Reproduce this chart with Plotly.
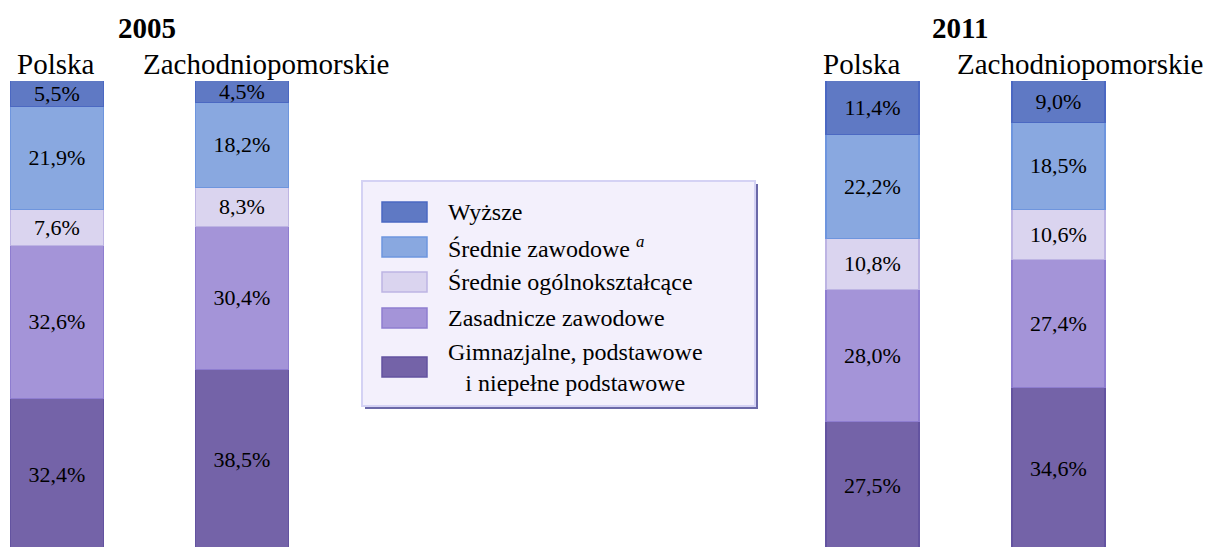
import plotly.graph_objects as go

# ---- data ----
regions = ["Polska", "Zachodniopomorskie"]
years = ["2005", "2011"]

levels = [
    "Wyższe",
    "Średnie zawodowe <sup><i>a</i></sup>",
    "Średnie ogólnokształcące",
    "Zasadnicze zawodowe",
    "Gimnazjalne, podstawowe<br>i niepełne podstawowe",
]

# shares per level, [Polska, Zachodniopomorskie]
wyzsze_2005 = [5.5, 4.5]
sr_zaw_2005 = [21.9, 18.2]
sr_ogol_2005 = [7.6, 8.3]
zasad_2005 = [32.6, 30.4]
gimn_2005 = [32.4, 38.5]

wyzsze_2011 = [11.4, 9.0]
sr_zaw_2011 = [22.2, 18.5]
sr_ogol_2011 = [10.8, 10.6]
zasad_2011 = [28.0, 27.4]
gimn_2011 = [27.5, 34.6]

fill_colors = ["#5F79C4", "#89A8E0", "#DAD4EF", "#A494D8", "#7463A8"]
line_colors = ["#4B68C2", "#6E95DE", "#BDB4E3", "#8E7DD0", "#6353A0"]

# stacked bottom -> top
series_2005 = [gimn_2005, zasad_2005, sr_ogol_2005, sr_zaw_2005, wyzsze_2005]
series_2011 = [gimn_2011, zasad_2011, sr_ogol_2011, sr_zaw_2011, wyzsze_2011]
order = [4, 3, 2, 1, 0]  # index into levels/colors

W, H = 1208, 547
SERIF = "Liberation Serif"


def px(x):
    return x / W


def py(y):
    return 1 - y / H


def pct(v):
    return f"{v:.1f}%".replace(".", ",")


fig = go.Figure()

for series, xa in [(series_2005, "x"), (series_2011, "x2")]:
    for vals, k in zip(series, order):
        fig.add_trace(go.Bar(
            x=regions, y=vals, xaxis=xa, yaxis="y",
            width=0.5,
            marker=dict(color=fill_colors[k], line=dict(color=line_colors[k], width=1.5)),
            text=[pct(v) for v in vals],
            textposition="inside", insidetextanchor="middle",
            textangle=0, constraintext="none",
            textfont=dict(family=SERIF, size=22, color="black"),
            showlegend=False, hoverinfo="skip",
        ))

annotations = []
shapes = []

# year headers
for yr, xc in zip(years, [147, 960]):
    annotations.append(dict(x=px(xc), y=py(28), xref="paper", yref="paper",
                            xanchor="center", yanchor="middle",
                            text=f"<b>{yr}</b>", showarrow=False,
                            font=dict(family=SERIF, size=29, color="black")))

# region headers
for xa, shifts in [("x", [-2, 23]), ("x2", [-12, 21])]:
    for i, reg in enumerate(regions):
        annotations.append(dict(x=i, y=py(64), xref=xa, yref="paper",
                                text=reg, showarrow=False, xshift=shifts[i],
                                xanchor="center", yanchor="middle",
                                font=dict(family=SERIF, size=29, color="black")))

# hand-made legend box
shapes.append(dict(type="rect", xref="paper", yref="paper",
                   x0=px(365), x1=px(758), y0=py(184), y1=py(409),
                   fillcolor="#6B69A8", line=dict(width=0), layer="above"))
shapes.append(dict(type="rect", xref="paper", yref="paper",
                   x0=px(362), x1=px(755), y0=py(181), y1=py(406),
                   fillcolor="#F3F0FC", line=dict(color="#D4D2F4", width=2), layer="above"))

row_y = [212, 247, 282, 318, 367]
for k, yc in enumerate(row_y):
    shapes.append(dict(type="rect", xref="paper", yref="paper",
                       x0=px(382), x1=px(427), y0=py(yc - 10), y1=py(yc + 10),
                       fillcolor=fill_colors[k], line=dict(color=line_colors[k], width=1.5),
                       layer="above"))
    annotations.append(dict(x=px(446), y=py(yc), xref="paper", yref="paper",
                            text=levels[k], showarrow=False,
                            xanchor="left", yanchor="middle", align="center",
                            font=dict(family=SERIF, size=24, color="black")))

# axis placement (reference pixel positions of bar centres, 185 px apart)
x1_left, x1_right = 57.5 - 0.31 * 185, 242.5 + 0.5 * 185
x2_left, x2_right = 873.5 - 0.5 * 185.5, 1059 + 0.5 * 185.5

fig.update_layout(
    width=W, height=H,
    margin=dict(l=0, r=0, t=0, b=0, pad=0),
    paper_bgcolor="white", plot_bgcolor="white",
    barmode="stack", bargap=0,
    xaxis=dict(domain=[max(px(x1_left), 0), px(x1_right)], range=[-0.31, 1.5],
               type="category", visible=False),
    xaxis2=dict(domain=[px(x2_left), px(x2_right)], range=[-0.5, 1.5], type="category",
                visible=False, anchor="y"),
    yaxis=dict(domain=[0, py(81)], range=[0.85, 100], visible=False),
    annotations=annotations,
    shapes=shapes,
)

# drop the default page margin so the figure fills the window exactly
fig.write_html("out.html", config={"displayModeBar": False}, post_script=(
    "document.body.style.margin='0';"
    "document.body.style.overflow='hidden';"
))
